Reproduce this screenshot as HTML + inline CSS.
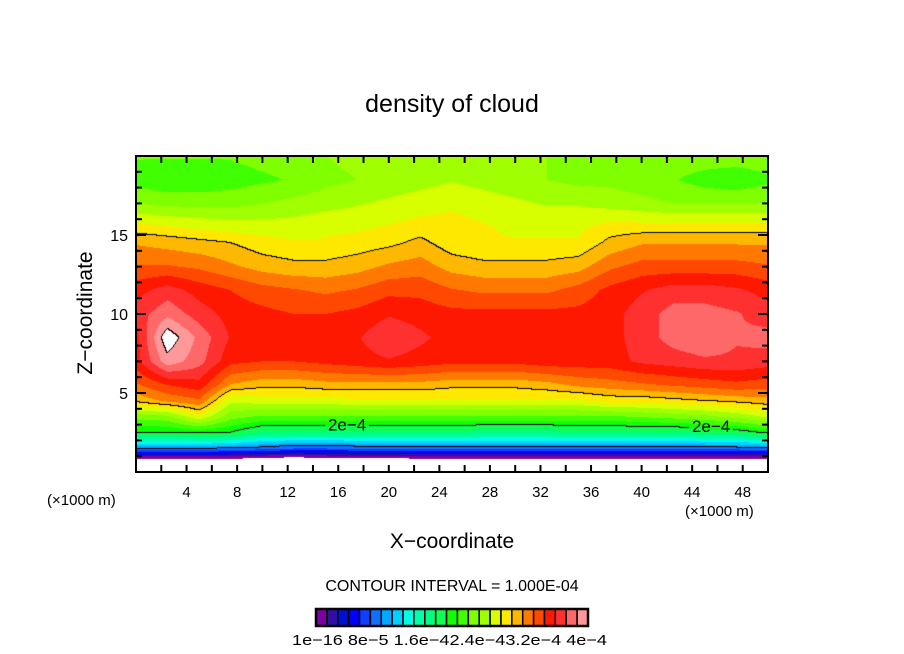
<!DOCTYPE html>
<html><head><meta charset="utf-8">
<style>
html,body{margin:0;padding:0;background:#fff;}
#wrap{position:relative;width:904px;height:654px;overflow:hidden;font-family:"Liberation Sans",sans-serif;}
canvas{position:absolute;left:136px;top:156px;}
svg{position:absolute;left:0;top:0;}
</style></head>
<body>
<div id="wrap">
<canvas id="field" width="632" height="316"></canvas>
<svg id="ov" width="904" height="654">
<text x="452" y="112" font-size="25" text-anchor="middle">density of cloud</text>
<text x="452" y="548" font-size="21" text-anchor="middle">X−coordinate</text>
<text transform="translate(92,313) rotate(-90)" font-size="21" text-anchor="middle">Z−coordinate</text>
<text x="47" y="505" font-size="15">(×1000 m)</text>
<text x="685" y="516" font-size="15">(×1000 m)</text>
<text x="452" y="591" font-size="16" text-anchor="middle">CONTOUR INTERVAL = 1.000E-04</text>
<g id="axes"></g>
<g id="cbar"></g>
<text x="292" y="645" font-size="15" textLength="315" lengthAdjust="spacingAndGlyphs">1e−16 8e−5 1.6e−42.4e−43.2e−4 4e−4</text>
</svg>
</div>
<script>
// field values in units of 1e-4, rows are z levels (top to bottom), cols are x
const xNodes=[0,2.5,5,7.5,10,12.5,15,17.5,20,22.5,25,27.5,30,32.5,35,37.5,40,42.5,45,47.5,50];
const zNodes=[20,18.5,17,15.5,14.5,13,11.5,10,8.5,7,5.5,4.5,3.5,2.5,1.5,1,0.3];
const row20=[2.35,2.35,2.35,2.35,2.4,2.45,2.5,2.55,2.6,2.65,2.65,2.6,2.55,2.5,2.5,2.5,2.5,2.45,2.45,2.45,2.45];
const row185=[2.25,2.2,2.2,2.25,2.3,2.35,2.45,2.5,2.55,2.6,2.65,2.6,2.55,2.5,2.45,2.45,2.4,2.35,2.25,2.2,2.3];
const row17=[2.5,2.45,2.45,2.45,2.5,2.55,2.6,2.65,2.7,2.75,2.8,2.75,2.7,2.65,2.65,2.6,2.55,2.5,2.5,2.5,2.5];
const row155=[2.9,2.85,2.8,2.75,2.75,2.75,2.8,2.8,2.85,2.9,2.9,2.85,2.8,2.8,2.8,2.9,2.9,2.9,2.9,2.9,2.9];
const row145=[3.15,3.1,3.05,3.0,2.9,2.85,2.85,2.9,2.95,3.05,2.9,2.85,2.85,2.85,2.85,3.05,3.15,3.15,3.15,3.15,3.15];
const row13=[3.35,3.35,3.3,3.2,3.1,3.05,3.05,3.1,3.2,3.25,3.1,3.05,3.05,3.05,3.1,3.3,3.4,3.4,3.4,3.4,3.35];
const row115=[3.6,3.75,3.6,3.5,3.4,3.35,3.3,3.35,3.45,3.45,3.35,3.3,3.3,3.3,3.4,3.55,3.65,3.75,3.75,3.7,3.6];
const row10=[3.75,3.95,3.75,3.6,3.55,3.5,3.5,3.55,3.65,3.6,3.55,3.55,3.55,3.55,3.55,3.6,3.75,3.9,3.9,3.85,3.75];
const row85=[3.6,4.3,3.95,3.65,3.6,3.6,3.6,3.65,3.8,3.7,3.6,3.6,3.6,3.6,3.6,3.6,3.75,3.9,3.98,3.85,3.9];
const row7=[3.6,4.1,3.9,3.55,3.5,3.5,3.55,3.6,3.65,3.6,3.55,3.55,3.55,3.6,3.6,3.6,3.7,3.75,3.8,3.8,3.75];
const row55=[3.3,3.5,3.6,3.15,3.05,3.05,3.1,3.1,3.1,3.1,3.05,3.05,3.05,3.1,3.2,3.25,3.3,3.35,3.4,3.45,3.4];
const row45=[3.05,3.2,3.3,2.7,2.75,2.75,2.75,2.8,2.8,2.8,2.8,2.8,2.8,2.8,2.8,2.9,2.9,2.95,3.0,3.05,3.1];
const row35=[2.4,2.45,2.8,2.4,2.3,2.3,2.3,2.3,2.3,2.3,2.3,2.3,2.3,2.3,2.3,2.3,2.35,2.4,2.45,2.55,2.7];
const row25=[2.0,2.0,2.05,2.0,1.8,1.8,1.8,1.8,1.8,1.8,1.8,1.75,1.75,1.75,1.8,1.8,1.8,1.8,1.85,1.9,2.05];
const row15=[1.05,1.05,1.05,1.0,0.95,0.85,0.85,0.9,0.9,0.95,0.95,0.95,0.95,0.95,0.95,0.95,0.95,0.95,0.95,0.95,1.0];
const row1=[0.15,0.15,0.15,0.15,0.1,0.05,0.1,0.1,0.1,0.15,0.15,0.15,0.15,0.15,0.15,0.15,0.15,0.15,0.15,0.15,0.15];
const row03=[-0.5,-0.5,-0.5,-0.5,-0.5,-0.5,-0.5,-0.5,-0.5,-0.5,-0.5,-0.5,-0.5,-0.5,-0.5,-0.5,-0.5,-0.5,-0.5,-0.5,-0.5];
const rows=[row20,row185,row17,row155,row145,row13,row115,row10,row85,row7,row55,row45,row35,row25,row15,row1,row03];
const contourLevels=[1,2,3,4.17];
const xTicks=[4,8,12,16,20,24,28,32,36,40,44,48];
const yTicks=[5,10,15];
const colors=["#7f00a0","#3010a0","#0010d0","#0000ff","#1040ff","#1070ff","#00a8ff","#00d0ff","#00ffe8","#00ffa8","#00ff80","#10ff50","#10ff00","#40ff00","#80ff00","#a0ff00","#d8ff00","#ffe800","#ffb800","#ff7800","#ff4800","#ff1800","#ff3030","#ff6868","#ff9898"];

const PX=136,PY=156,PW=632,PH=316,XMAX=50,ZMAX=20;
const sx=u=>PX+u/XMAX*PW, sy=z=>PY+PH-z/ZMAX*PH;

function seg(arr,v){
  const asc=arr[arr.length-1]>arr[0];
  for(let i=0;i<arr.length-1;i++){
    const a=arr[i],b=arr[i+1];
    if(asc? (v>=a&&v<=b):(v<=a&&v>=b)) return [i,(v-a)/(b-a)];
  }
  if(asc) return v<arr[0]?[0,0]:[arr.length-2,1];
  return v>arr[0]?[0,0]:[arr.length-2,1];
}
function val(u,z){
  const [i,t]=seg(xNodes,u),[j,s]=seg(zNodes,z);
  const a=rows[j][i],b=rows[j][i+1],c=rows[j+1][i],d=rows[j+1][i+1];
  return (a*(1-t)+b*t)*(1-s)+(c*(1-t)+d*t)*s;
}
function hex(h){return [parseInt(h.slice(1,3),16),parseInt(h.slice(3,5),16),parseInt(h.slice(5,7),16)];}
const rgb=colors.map(hex);
function lev(v){let k=0;for(const L of contourLevels) if(v>=L) k++;return k;}
function colOf(v){return (v<0||v>=4.17)?[255,255,255]:rgb[Math.min(24,Math.floor(v*6))];}

const cv=document.getElementById('field'),ctx=cv.getContext('2d');
const img=ctx.createImageData(PW,PH);
const V=new Float32Array(PW*PH);
for(let py=0;py<PH;py++)for(let px=0;px<PW;px++){
  V[py*PW+px]=val((px+0.5)/PW*XMAX,(PH-py-0.5)/PH*ZMAX);
}
for(let py=0;py<PH;py++)for(let px=0;px<PW;px++){
  const v=V[py*PW+px];let c=colOf(v);
  const l=lev(v);
  if((px<PW-1&&lev(V[py*PW+px+1])!==l)||(py<PH-1&&lev(V[(py+1)*PW+px])!==l)){
    c=[0,0,0];
  }
  const o=(py*PW+px)*4;img.data[o]=c[0];img.data[o+1]=c[1];img.data[o+2]=c[2];img.data[o+3]=255;
}
ctx.putImageData(img,0,0);

const NS='http://www.w3.org/2000/svg';
function mk(tag,attrs,parent){const e=document.createElementNS(NS,tag);for(const k in attrs)e.setAttribute(k,attrs[k]);parent.appendChild(e);return e;}
const ax=document.getElementById('axes');
const lbls=[[16.7,3.0],[45.5,2.9]];
lbls.forEach(p=>{
  const cx=Math.round(sx(p[0])-PX), cy=Math.round(sy(p[1])-PY);
  const seg2=ctx.getImageData(cx-22,cy-8,44,16);
  for(let yy=0;yy<16;yy++)for(let xx=0;xx<44;xx++){
    const c=colOf(V[(cy-8+yy)*PW+(cx-22+xx)]);
    const o=(yy*44+xx)*4;seg2.data[o]=c[0];seg2.data[o+1]=c[1];seg2.data[o+2]=c[2];
  }
  ctx.putImageData(seg2,cx-22,cy-8);
  const t=mk('text',{x:sx(p[0]),y:sy(p[1])+6,'font-size':17,'text-anchor':'middle'},ax);
  t.textContent='2e−4';
  
  
});
const frame=mk('rect',{x:PX,y:PY,width:PW,height:PH,fill:'none',stroke:'#000','stroke-width':2},ax);


for(let u=2;u<XMAX;u+=2){
  const l1=mk('line',{x1:sx(u),x2:sx(u),y1:PY,y2:PY+7,stroke:'#000','stroke-width':2},ax);
  
  
  const l2=mk('line',{x1:sx(u),x2:sx(u),y1:PY+PH,y2:PY+PH-7,stroke:'#000','stroke-width':2},ax);
  
  
}
xTicks.forEach(u=>{
  const t=mk('text',{x:sx(u),y:PY+PH+25,'font-size':15,'text-anchor':'middle'},ax);
  t.textContent=String(u);
  
  
});
for(let z=1;z<ZMAX;z++){
  const len=(z%5===0)?10:6;
  const l1=mk('line',{x1:PX,x2:PX+len,y1:sy(z),y2:sy(z),stroke:'#000','stroke-width':2},ax);
  
  
  const l2=mk('line',{x1:PX+PW,x2:PX+PW-len,y1:sy(z),y2:sy(z),stroke:'#000','stroke-width':2},ax);
  
  
}
yTicks.forEach(z=>{
  const t=mk('text',{x:PX-8,y:sy(z)+6,'font-size':16,'text-anchor':'end'},ax);
  t.textContent=String(z);
  
  
});
const cb=document.getElementById('cbar');
const bx=316,bw=272/25,by=609,bh=17;
colors.forEach((c,i)=>{
  const r=mk('rect',{x:bx+i*bw,y:by,width:bw,height:bh,fill:c,stroke:'#000','stroke-width':1.5},cb);
  
  
});
const cf=mk('rect',{x:bx,y:by,width:272,height:bh,fill:'none',stroke:'#000','stroke-width':2.5},cb);


</script>
</body></html>
